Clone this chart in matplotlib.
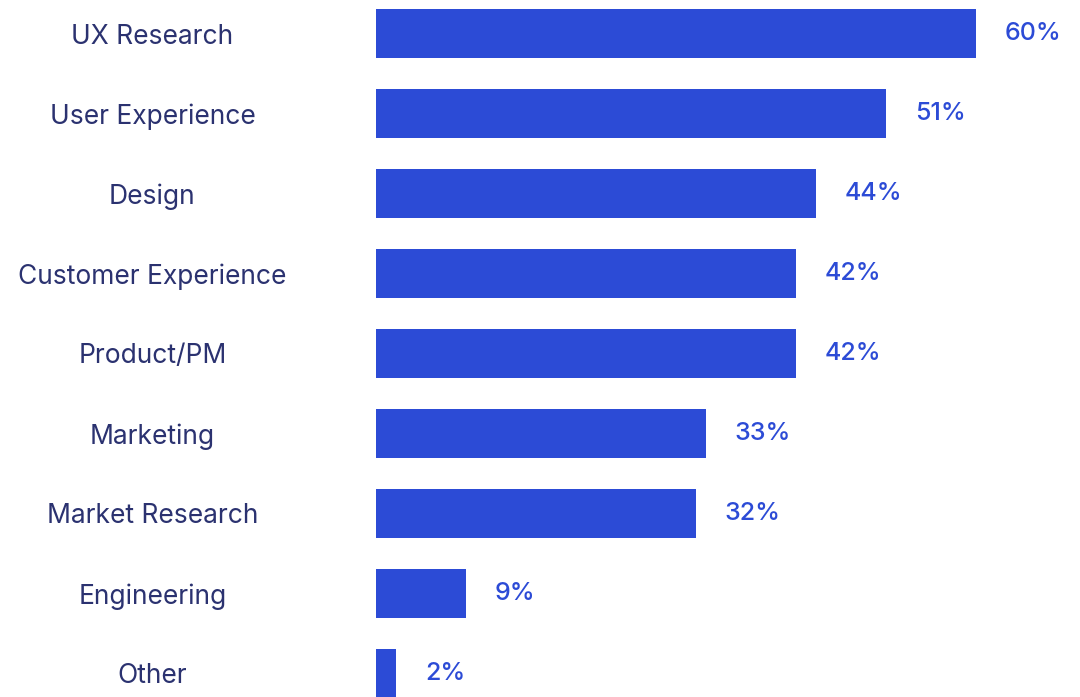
import matplotlib
matplotlib.use("Agg")
import matplotlib.pyplot as plt

categories = ["UX Research", "User Experience", "Design", "Customer Experience",
              "Product/PM", "Marketing", "Market Research", "Engineering", "Other"]
shares = [60, 51, 44, 42, 42, 33, 32, 9, 2]

BAR = "#2c4bd6"
NAVY = "#2b3270"

plt.rcParams["font.family"] = ["Inter", "DejaVu Sans"]

fig = plt.figure(figsize=(10.8, 6.97), dpi=100)
ax = fig.add_axes([376 / 1080, 0, 700 / 1080, 1])

pos = list(range(len(categories)))
ax.barh(pos, shares, height=0.61, color=BAR)

# percentage labels just right of each bar
for i, v in zip(pos, shares):
    ax.text(v + 2.9, i, f"{v}%", va="center", ha="left",
            fontsize=18, fontweight="medium", color=BAR)

ax.set_xlim(0, 70)
ax.set_ylim(8.294, -0.419)
ax.set_yticks(pos)
ax.set_yticklabels(categories, fontsize=19, color=NAVY, ha="center")
ax.tick_params(axis="y", length=0, pad=161)
ax.set_xticks([])
for s in ax.spines.values():
    s.set_visible(False)

fig.savefig("out.png", dpi=100)
